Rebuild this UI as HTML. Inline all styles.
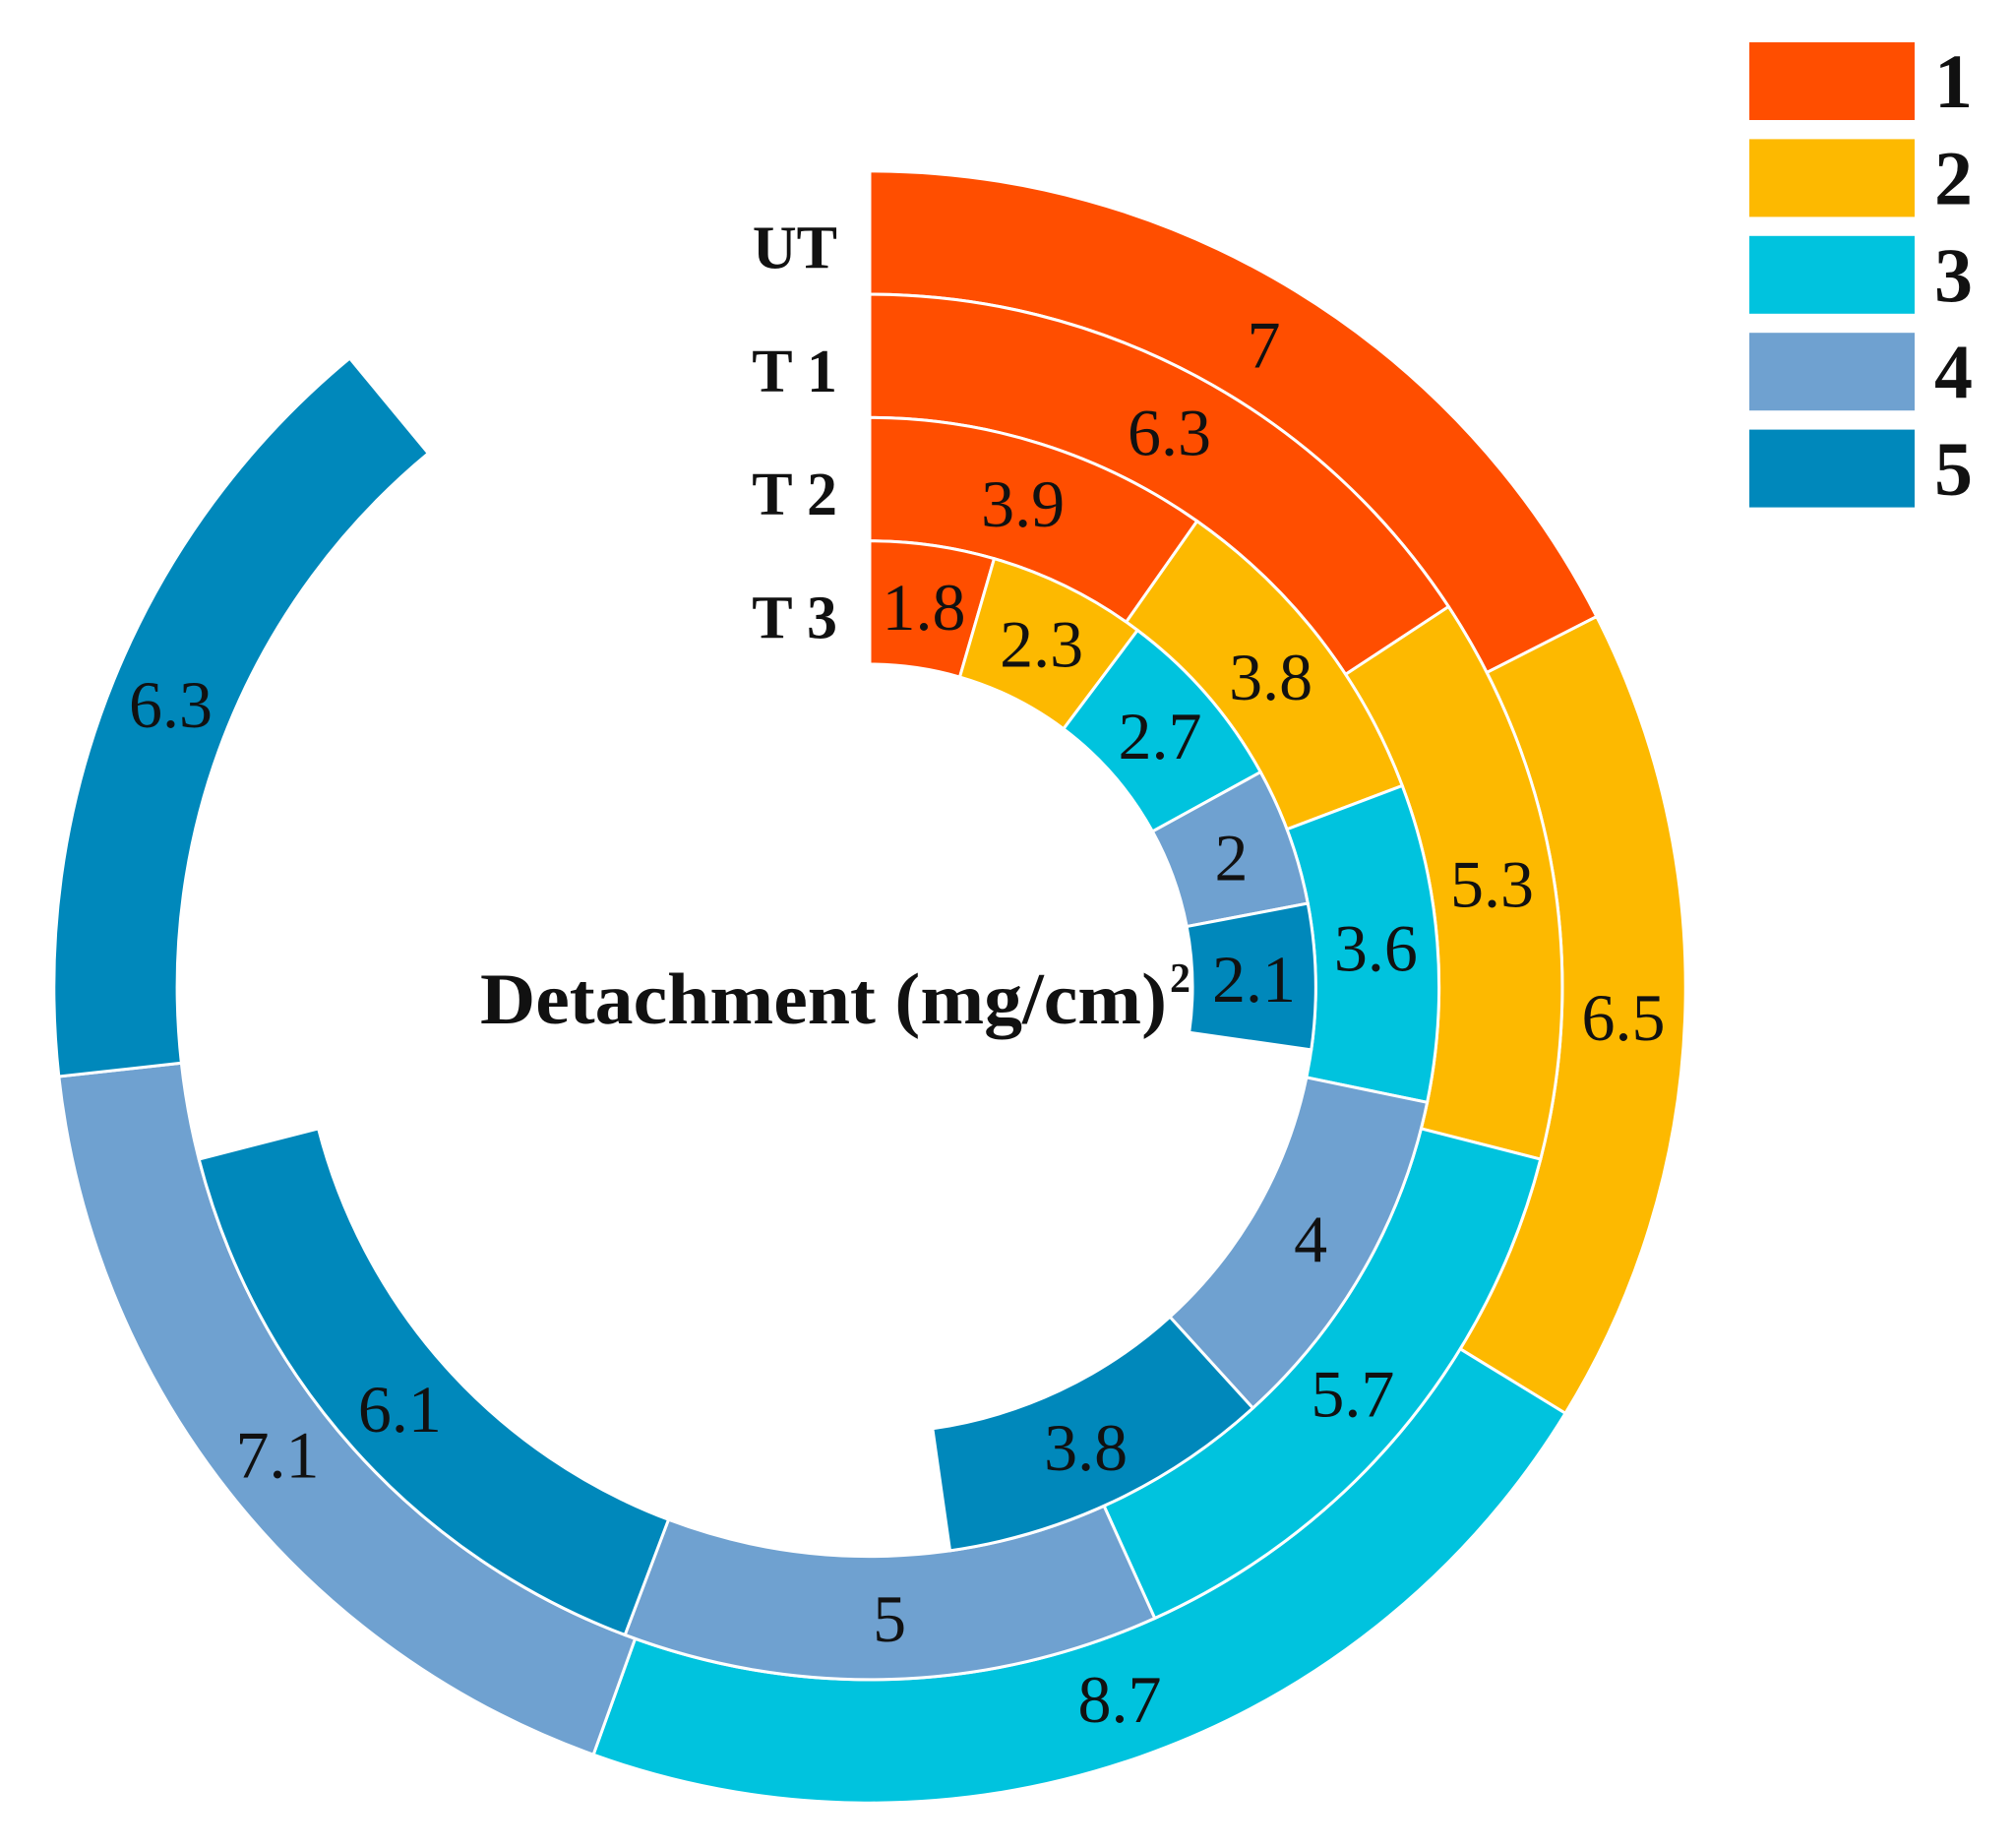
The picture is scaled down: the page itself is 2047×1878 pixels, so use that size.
<!DOCTYPE html>
<html><head><meta charset="utf-8"><style>
html,body{margin:0;padding:0;background:#fff;}
svg{display:block;}
</style></head><body>
<svg id="chart" width="2047" height="1878" viewBox="0 0 2047 1878" xmlns="http://www.w3.org/2000/svg"></svg>
<script>
const ringNames = ["UT","T1","T2","T3"];
const ringLabels = ["UT","T 1","T 2","T 3"];
const seriesNames = ["1","2","3","4","5"];
const valuesUT = [7, 6.5, 8.7, 7.1, 6.3];
const valuesT1 = [6.3, 5.3, 5.7, 5, 6.1];
const valuesT2 = [3.9, 3.8, 3.6, 4, 3.8];
const valuesT3 = [1.8, 2.3, 2.7, 2, 2.1];
const axisMax = 40;

const colors = ["#FF4E00","#FDB900","#00C3DE","#6FA1D0","#0088BB"];
const NS = "http://www.w3.org/2000/svg";
const svg = document.getElementById("chart");
const cx = 884, cy = 1003;
const ringInner = 328, ringW = 125.3;
function angle(v){ return v / axisMax * 2 * Math.PI; }
function pt(r, a){ return [cx + r*Math.sin(a), cy - r*Math.cos(a)]; }
function mk(tag, attrs){ const e = document.createElementNS(NS, tag); for (const k in attrs) e.setAttribute(k, attrs[k]); svg.appendChild(e); return e; }

const allValues = [valuesUT, valuesT1, valuesT2, valuesT3];
allValues.forEach((vals, ri) => {
  const r0 = ringInner + (3 - ri) * ringW;
  const r1 = r0 + ringW;
  let cum = 0;
  vals.forEach((v, si) => {
    const a0 = angle(cum), a1 = angle(cum + v);
    const large = (a1 - a0) > Math.PI ? 1 : 0;
    const p0 = pt(r1, a0), p1 = pt(r1, a1), p2 = pt(r0, a1), p3 = pt(r0, a0);
    const d = `M${p0[0]},${p0[1]} A${r1},${r1} 0 ${large} 1 ${p1[0]},${p1[1]} L${p2[0]},${p2[1]} A${r0},${r0} 0 ${large} 0 ${p3[0]},${p3[1]} Z`;
    const path = mk("path", {d: d, fill: colors[si], stroke: "#fff", "stroke-width": 3});
    
    
    const am = angle(cum + v/2);
    const lp = pt((r0 + r1)/2, am);
    const t = mk("text", {x: lp[0], y: lp[1] + 24, "text-anchor": "middle", "font-family": "Liberation Serif, serif", "font-size": 68, fill: "#111"});
    t.textContent = String(v);
    
    
    cum += v;
  });
  const ly = cy - (r0 + r1)/2 + 36;
  const rl = mk("text", {x: 851, y: ly, "text-anchor": "end", "font-family": "Liberation Serif, serif", "font-weight": "bold", "font-size": 62, fill: "#111"});
  rl.textContent = ringLabels[ri];
  
  
});

const title = mk("text", {x: 488, y: 1040, "font-family": "Liberation Serif, serif", "font-weight": "bold", "font-size": 74, fill: "#111", textLength: 698, lengthAdjust: "spacingAndGlyphs"});
title.textContent = "Detachment (mg/cm)";


const sup = mk("text", {x: 1189, y: 1008, "font-family": "Liberation Serif, serif", "font-weight": "bold", "font-size": 42, fill: "#111"});
sup.textContent = "2";



seriesNames.forEach((s, i) => {
  const y = 43 + i * 98.4;
  const r = mk("rect", {x: 1778, y: y, width: 168, height: 79, fill: colors[i]});
  
  
  const t = mk("text", {x: 1966, y: y + 66, "font-family": "Liberation Serif, serif", "font-weight": "bold", "font-size": 78, fill: "#111"});
  t.textContent = s;
  
  
});
</script>
</body></html>
